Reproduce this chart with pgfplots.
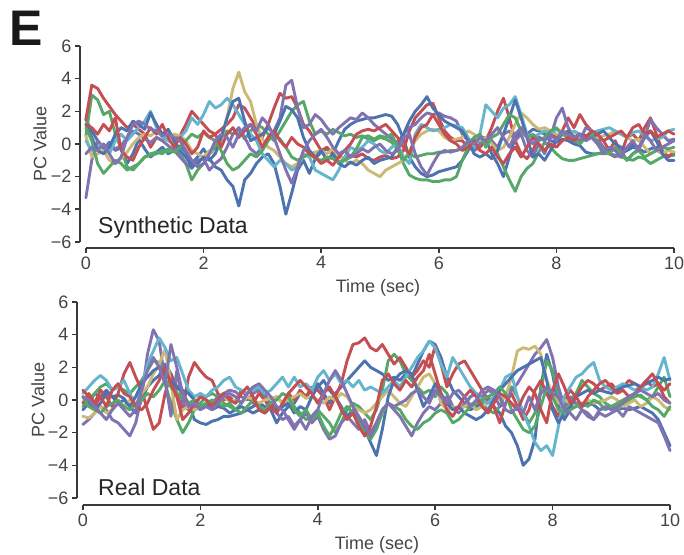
\documentclass[border=0pt]{standalone}
\usepackage{pgfplots}
\pgfplotsset{compat=1.18}
\usepackage{fontspec}
\setmainfont{Liberation Sans}
\definecolor{sb1}{HTML}{4C72B0}
\definecolor{sb2}{HTML}{55A868}
\definecolor{sb3}{HTML}{C44E52}
\definecolor{sb4}{HTML}{8172B2}
\definecolor{sb5}{HTML}{CCB974}
\definecolor{sb6}{HTML}{64B5CD}
\definecolor{tickgray}{HTML}{444444}
\definecolor{spinegray}{HTML}{3A3A3A}
\pgfplotsset{
  pcstyle/.style={
    scale only axis, clip=false,
    xmin=-0.1, xmax=10, ymax=6,
    axis x line*=bottom, axis y line*=left,
    axis line style={draw=none},
    xtick={0,2,4,6,8,10}, ytick={-6,-4,-2,0,2,4,6},
    xticklabels={0,2,4,6,8,10},
    yticklabels={−6,−4,−2,0,2,4,6},
    tick align=outside, major tick length=5pt,
    tick style={line width=1.6pt, color=spinegray},
    tick label style={font=\fontsize{18}{18}\selectfont, color=tickgray},
    every axis plot/.append style={line width=2.9pt, line join=round, line cap=round},
    no markers,
  }
}
\begin{document}
\begin{tikzpicture}[x=1pt,y=1pt]
\useasboundingbox (0pt,0pt) rectangle (684pt,554pt);
% ---------------- Synthetic ----------------
\begin{axis}[pcstyle, at={(80pt,306pt)}, anchor=south west, width=594pt, height=202pt, ymin=-6.37]
\draw[spinegray, line width=2.2pt] (axis cs:0,-6.37) -- (axis cs:10,-6.37);
\draw[spinegray, line width=2.2pt] (axis cs:-0.1,-6) -- (axis cs:-0.1,6);
\addplot[sb1] coordinates {(0,1.5)(0.1,0.8)(0.2,0.2)(0.3,-0.3)(0.4,0.1)(0.5,-0.4)(0.6,-0.2)(0.7,-1.2)(0.8,-0.6)(0.9,0.3)
(1,-0.3)(1.1,-0.8)(1.2,-0.5)(1.3,-0.2)(1.4,-0.6)(1.5,-0.4)(1.6,-0.1)(1.7,-0.5)(1.8,-1.2)(1.9,-0.8)
(2,-0.3)(2.1,-0.9)(2.2,-1.4)(2.3,-1.6)(2.4,-2.2)(2.5,-2.6)(2.6,-3.8)(2.7,-2.2)(2.8,-1.8)(2.9,-1.2)
(3,-0.8)(3.1,-0.6)(3.2,-1.2)(3.3,-2.6)(3.4,-4.3)(3.5,-3)(3.6,-1.6)(3.7,-1)(3.8,-1.8)(3.9,-0.9)
(4,-0.5)(4.1,-0.3)(4.2,-0.6)(4.3,0.2)(4.4,0.9)(4.5,1.2)(4.6,1.4)(4.7,1.5)(4.8,1.6)(4.9,1.6)
(5,1.7)(5.1,1.8)(5.2,1.7)(5.3,1.2)(5.4,0.3)(5.5,-0.8)(5.6,-1.4)(5.7,-1.8)(5.8,-2)(5.9,-1.9)
(6,-1.7)(6.1,-1.6)(6.2,-1.5)(6.3,-1.4)(6.4,-1)(6.5,-0.4)(6.6,0.2)(6.7,0.5)(6.8,0.3)(6.9,-0.6)
(7,-1.2)(7.1,-2)(7.2,-0.8)(7.3,0.4)(7.4,0.8)(7.5,0.6)(7.6,0.9)(7.7,0.8)(7.8,0.6)(7.9,0.2)
(8,0.1)(8.1,0.3)(8.2,0.2)(8.3,0)(8.4,-0.1)(8.5,-0.5)(8.6,-0.6)(8.7,-0.6)(8.8,-0.5)(8.9,-0.6)
(9,-0.7)(9.1,-0.6)(9.2,-0.4)(9.3,-0.2)(9.4,-0.3)(9.5,-0.5)(9.6,-0.3)(9.7,-0.2)(9.8,-0.5)(9.9,-0.8)(10,-0.6)};
\addplot[sb2] coordinates {(0,0.5)(0.1,3)(0.2,2.7)(0.3,1.8)(0.4,2)(0.5,0.6)(0.6,-0.3)(0.7,-1.4)(0.8,-1.6)(0.9,-1.2)
(1,-0.8)(1.1,-0.7)(1.2,-0.6)(1.3,-0.4)(1.4,-0.5)(1.5,-0.3)(1.6,-0.6)(1.7,-1.2)(1.8,-2.2)(1.9,-1.6)
(2,-1.2)(2.1,-0.6)(2.2,-0.2)(2.3,0.4)(2.4,0.8)(2.5,0.6)(2.6,0.9)(2.7,0.3)(2.8,0.8)(2.9,1.2)
(3,1)(3.1,0.6)(3.2,0.2)(3.3,0.8)(3.4,1.4)(3.5,2)(3.6,2.4)(3.7,2.6)(3.8,1.4)(3.9,0.6)
(4,0.8)(4.1,0.6)(4.2,0.9)(4.3,0.7)(4.4,0.5)(4.5,0.6)(4.6,0.4)(4.7,0.5)(4.8,0.3)(4.9,0.2)
(5,0.4)(5.1,0.3)(5.2,0.1)(5.3,-0.3)(5.4,-1.2)(5.5,-1.9)(5.6,-2.1)(5.7,-2.2)(5.8,-2.2)(5.9,-2.3)
(6,-2.3)(6.1,-2.2)(6.2,-2.2)(6.3,-2)(6.4,-1)(6.5,-0.2)(6.6,0.3)(6.7,0.1)(6.8,0.4)(6.9,0.2)
(7,-0.6)(7.1,-1.4)(7.2,-2.2)(7.3,-2.9)(7.4,-2)(7.5,-1.5)(7.6,-1.2)(7.7,-0.5)(7.8,0.1)(7.9,-0.2)
(8,-0.6)(8.1,-0.9)(8.2,-1)(8.3,-1)(8.4,-0.9)(8.5,-0.8)(8.6,-0.7)(8.7,-0.6)(8.8,-0.6)(8.9,-0.6)
(9,-0.7)(9.1,-0.8)(9.2,-0.9)(9.3,-1)(9.4,-0.8)(9.5,-0.9)(9.6,-1.2)(9.7,-1)(9.8,-0.8)(9.9,-0.7)(10,-0.7)};
\addplot[sb3] coordinates {(0,1.5)(0.1,3.6)(0.2,3.4)(0.3,2.8)(0.4,2.3)(0.5,1.8)(0.6,1.4)(0.7,1)(0.8,1.2)(0.9,0.9)
(1,0.6)(1.1,-0.2)(1.2,0.4)(1.3,0.2)(1.4,0.6)(1.5,0.3)(1.6,0.5)(1.7,1.2)(1.8,2)(1.9,1.6)
(2,1.2)(2.1,0.8)(2.2,0.6)(2.3,0.9)(2.4,1.2)(2.5,1.6)(2.6,2.4)(2.7,2.2)(2.8,1.6)(2.9,1)
(3,0.4)(3.1,1.2)(3.2,2.2)(3.3,3.1)(3.4,2.8)(3.5,2.9)(3.6,2.2)(3.7,1.2)(3.8,0.8)(3.9,0.2)
(4,-0.4)(4.1,-0.2)(4.2,-0.6)(4.3,-0.8)(4.4,-0.9)(4.5,-0.7)(4.6,-0.8)(4.7,-0.6)(4.8,-0.9)(4.9,-1)
(5,-0.8)(5.1,-0.7)(5.2,-0.9)(5.3,-0.8)(5.4,-0.4)(5.5,0.8)(5.6,1.6)(5.7,2)(5.8,2.4)(5.9,2.5)
(6,1.6)(6.1,0.8)(6.2,0.4)(6.3,0.2)(6.4,0.2)(6.5,-0.2)(6.6,-0.4)(6.7,-0.2)(6.8,0.2)(6.9,1)
(7,2)(7.1,2.8)(7.2,1.6)(7.3,0.2)(7.4,-0.6)(7.5,-0.9)(7.6,-0.4)(7.7,0.4)(7.8,0.3)(7.9,0.6)
(8,0.4)(8.1,0.8)(8.2,1.6)(8.3,1)(8.4,1.8)(8.5,1.2)(8.6,0.8)(8.7,0.4)(8.8,0.2)(8.9,-0.4)
(9,0.2)(9.1,-0.6)(9.2,0.4)(9.3,0.6)(9.4,0.2)(9.5,1)(9.6,1.6)(9.7,0.6)(9.8,-0.4)(9.9,-0.8)(10,-0.5)};
\addplot[sb4] coordinates {(0,-3.3)(0.1,-1)(0.2,0.2)(0.3,-0.2)(0.4,0)(0.5,-0.3)(0.6,-0.1)(0.7,0.4)(0.8,0.8)(0.9,0.6)
(1,0.3)(1.1,0.1)(1.2,0.4)(1.3,0.2)(1.4,-0.1)(1.5,-0.4)(1.6,-0.8)(1.7,-1.2)(1.8,-1.5)(1.9,-1)
(2,-0.9)(2.1,-1.6)(2.2,-1.2)(2.3,-0.9)(2.4,-0.2)(2.5,0.6)(2.6,1)(2.7,0.4)(2.8,-0.3)(2.9,-0.6)
(3,-0.2)(3.1,0.4)(3.2,0.8)(3.3,1.6)(3.4,3.6)(3.5,3.9)(3.6,2.2)(3.7,1)(3.8,1.2)(3.9,1.8)
(4,1.5)(4.1,1)(4.2,0.6)(4.3,1)(4.4,1.3)(4.5,1.6)(4.6,1.5)(4.7,1.9)(4.8,1.6)(4.9,1.2)
(5,0.9)(5.1,0.6)(5.2,0.3)(5.3,0.1)(5.4,0.6)(5.5,1)(5.6,1.2)(5.7,1.6)(5.8,1.9)(5.9,1.8)
(6,1.9)(6.1,1.7)(6.2,1.6)(6.3,1.4)(6.4,0.6)(6.5,0.2)(6.6,-0.4)(6.7,0)(6.8,0.4)(6.9,0.2)
(7,-0.2)(7.1,0.6)(7.2,0.8)(7.3,0.2)(7.4,0.6)(7.5,-0.4)(7.6,-0.8)(7.7,0)(7.8,-0.6)(7.9,0.4)
(8,1.6)(8.1,2.2)(8.2,1)(8.3,0.4)(8.4,0.2)(8.5,1)(8.6,0.8)(8.7,0.3)(8.8,-0.2)(8.9,-0.6)
(9,-0.8)(9.1,-0.4)(9.2,-1)(9.3,-0.6)(9.4,-0.3)(9.5,0.4)(9.6,1.5)(9.7,1)(9.8,0.6)(9.9,0.2)(10,0.3)};
\addplot[sb5] coordinates {(0,0.5)(0.1,-0.8)(0.2,-0.6)(0.3,-0.4)(0.4,-1)(0.5,-1.2)(0.6,-0.9)(0.7,-0.5)(0.8,0)(0.9,0.4)
(1,0.6)(1.1,0.5)(1.2,0.8)(1.3,0.6)(1.4,0.4)(1.5,0.6)(1.6,0.5)(1.7,0.2)(1.8,-0.4)(1.9,-0.6)
(2,-0.8)(2.1,-0.4)(2.2,-0.6)(2.3,0.2)(2.4,1.6)(2.5,3.4)(2.6,4.4)(2.7,3.2)(2.8,2.6)(2.9,1.2)
(3,0.3)(3.1,-0.2)(3.2,-0.4)(3.3,-0.8)(3.4,-1.2)(3.5,-1.4)(3.6,-1.2)(3.7,-0.8)(3.8,-0.6)(3.9,-0.5)
(4,-0.4)(4.1,-0.6)(4.2,-0.3)(4.3,-0.8)(4.4,-1)(4.5,-1.2)(4.6,-1)(4.7,-1.2)(4.8,-1.6)(4.9,-1.8)
(5,-2)(5.1,-1.6)(5.2,-1.4)(5.3,-1.2)(5.4,-1)(5.5,-0.4)(5.6,0.2)(5.7,0.6)(5.8,0.8)(5.9,0.9)
(6,0.8)(6.1,0.4)(6.2,0.2)(6.3,0.3)(6.4,0.4)(6.5,0.8)(6.6,0.6)(6.7,0.2)(6.8,0.4)(6.9,0)
(7,-0.4)(7.1,-0.2)(7.2,0.4)(7.3,1.2)(7.4,1.9)(7.5,1.6)(7.6,1.2)(7.7,0.9)(7.8,1)(7.9,0.8)
(8,0.6)(8.1,0.6)(8.2,0.5)(8.3,0.7)(8.4,0.6)(8.5,0.5)(8.6,0.6)(8.7,0.4)(8.8,0.5)(8.9,0.6)
(9,0.8)(9.1,0.6)(9.2,0.4)(9.3,0.2)(9.4,0.3)(9.5,-0.2)(9.6,-0.6)(9.7,-0.4)(9.8,-0.6)(9.9,-0.4)(10,-0.5)};
\addplot[sb6] coordinates {(0,0.2)(0.1,-0.4)(0.2,-0.2)(0.3,0)(0.4,-0.6)(0.5,0.2)(0.6,0.6)(0.7,0.2)(0.8,0.6)(0.9,1)
(1,1.4)(1.1,2)(1.2,1)(1.3,0.4)(1.4,0.2)(1.5,0)(1.6,0.4)(1.7,0.8)(1.8,1.6)(1.9,1.2)
(2,1.8)(2.1,2.6)(2.2,2.2)(2.3,2.4)(2.4,2.8)(2.5,2.4)(2.6,1.8)(2.7,1.2)(2.8,0.6)(2.9,0.2)
(3,-0.6)(3.1,-1)(3.2,-1.4)(3.3,-1)(3.4,-1.2)(3.5,-1.6)(3.6,-1.4)(3.7,-0.6)(3.8,-0.8)(3.9,-1.6)
(4,-1.8)(4.1,-2)(4.2,-2.2)(4.3,-1.6)(4.4,-0.8)(4.5,-0.2)(4.6,-0.4)(4.7,-0.2)(4.8,0.2)(4.9,0)
(5,-0.4)(5.1,-0.6)(5.2,-0.2)(5.3,0)(5.4,-0.8)(5.5,-1.2)(5.6,0.6)(5.7,1.2)(5.8,1)(5.9,0.8)
(6,0.9)(6.1,1)(6.2,1.2)(6.3,1.1)(6.4,1)(6.5,0.4)(6.6,-0.2)(6.7,0.6)(6.8,2.4)(6.9,2)
(7,1.6)(7.1,2.2)(7.2,2.4)(7.3,2.9)(7.4,1.8)(7.5,0.6)(7.6,0.4)(7.7,0.6)(7.8,0.8)(7.9,0.6)
(8,0.9)(8.1,0.7)(8.2,0.6)(8.3,0.8)(8.4,0.6)(8.5,0.5)(8.6,0.7)(8.7,0.8)(8.8,0.9)(8.9,1)
(9,0.8)(9.1,0.6)(9.2,0.4)(9.3,0.7)(9.4,0.8)(9.5,0.5)(9.6,0.2)(9.7,0.3)(9.8,0.4)(9.9,0.8)(10,0.9)};
\addplot[sb1] coordinates {(0,1.2)(0.1,0.4)(0.2,-0.4)(0.3,-0.6)(0.4,-0.2)(0.5,0.6)(0.6,1)(0.7,0.8)(0.8,1.4)(0.9,1.2)
(1,0.9)(1.1,1.9)(1.2,1.2)(1.3,0.6)(1.4,0.9)(1.5,0.2)(1.6,-0.4)(1.7,-0.8)(1.8,-1.4)(1.9,-1.2)
(2,-0.8)(2.1,-1)(2.2,-0.6)(2.3,0.4)(2.4,1.6)(2.5,2.6)(2.6,2.8)(2.7,1.4)(2.8,0.2)(2.9,0.4)
(3,0.6)(3.1,1)(3.2,0.6)(3.3,1.4)(3.4,2.3)(3.5,2.1)(3.6,1.6)(3.7,0.4)(3.8,-0.4)(3.9,-0.8)
(4,-0.4)(4.1,-1)(4.2,-0.6)(4.3,-1.2)(4.4,-1.4)(4.5,-1.1)(4.6,-1.3)(4.7,-1)(4.8,-0.8)(4.9,-1.2)
(5,-1)(5.1,-0.9)(5.2,-0.8)(5.3,-0.2)(5.4,0.6)(5.5,1.4)(5.6,2)(5.7,2.4)(5.8,2.9)(5.9,2.2)
(6,1.8)(6.1,1.4)(6.2,1.2)(6.3,1)(6.4,0.8)(6.5,0.2)(6.6,-0.6)(6.7,-0.8)(6.8,-0.6)(6.9,-0.9)
(7,-0.4)(7.1,0.6)(7.2,1.6)(7.3,2.7)(7.4,1.6)(7.5,0.4)(7.6,-0.8)(7.7,-0.6)(7.8,-1)(7.9,-0.4)
(8,0.2)(8.1,0.6)(8.2,0.8)(8.3,0.4)(8.4,0.6)(8.5,0.5)(8.6,0.4)(8.7,0.6)(8.8,0.8)(8.9,0.4)
(9,0)(9.1,-0.2)(9.2,-0.4)(9.3,0)(9.4,-0.2)(9.5,0.4)(9.6,0.8)(9.7,0.2)(9.8,-0.6)(9.9,-1)(10,-1)};
\addplot[sb2] coordinates {(0,1)(0.1,0.2)(0.2,-1.2)(0.3,-1.8)(0.4,-1.4)(0.5,-1)(0.6,-1.2)(0.7,-1.6)(0.8,-1.4)(0.9,-1.2)
(1,-0.8)(1.1,-0.6)(1.2,-0.5)(1.3,-0.6)(1.4,-0.3)(1.5,-0.5)(1.6,-0.2)(1.7,0.2)(1.8,0.6)(1.9,0.4)
(2,0.7)(2.1,0.4)(2.2,0.2)(2.3,-0.4)(2.4,-1.2)(2.5,-1.6)(2.6,-1.4)(2.7,-1)(2.8,-0.6)(2.9,-0.8)
(3,-0.4)(3.1,0.2)(3.2,0.6)(3.3,0.3)(3.4,-0.2)(3.5,-0.8)(3.6,-1)(3.7,-0.8)(3.8,-0.6)(3.9,-0.9)
(4,-1)(4.1,-0.8)(4.2,-0.9)(4.3,-1.1)(4.4,-1)(4.5,-0.8)(4.6,-0.3)(4.7,0.4)(4.8,0.5)(4.9,0.3)
(5,0.5)(5.1,0.4)(5.2,0.6)(5.3,-0.2)(5.4,-1)(5.5,-0.6)(5.6,-0.8)(5.7,-0.7)(5.8,-0.6)(5.9,-0.6)
(6,-0.5)(6.1,-0.5)(6.2,-0.4)(6.3,-0.4)(6.4,-0.3)(6.5,0)(6.6,0.4)(6.7,0.6)(6.8,-0.2)(6.9,0.4)
(7,0.6)(7.1,1.2)(7.2,1.8)(7.3,1.6)(7.4,0.8)(7.5,0.4)(7.6,0.6)(7.7,0.2)(7.8,0.4)(7.9,0.8)
(8,1)(8.1,0.6)(8.2,0.4)(8.3,0.2)(8.4,0)(8.5,0.4)(8.6,0.6)(8.7,0)(8.8,-0.4)(8.9,-0.6)
(9,-0.2)(9.1,-0.6)(9.2,-1)(9.3,-0.6)(9.4,-0.4)(9.5,-0.8)(9.6,-0.6)(9.7,-0.4)(9.8,-0.2)(9.9,-0.3)(10,-0.2)};
\addplot[sb3] coordinates {(0,1.2)(0.1,1)(0.2,0.6)(0.3,1.2)(0.4,0.8)(0.5,1.6)(0.6,-0.4)(0.7,-0.8)(0.8,-1)(0.9,-0.2)
(1,0.4)(1.1,1)(1.2,0.6)(1.3,1.2)(1.4,0.4)(1.5,-0.2)(1.6,0.4)(1.7,0)(1.8,-0.6)(1.9,-0.2)
(2,0.8)(2.1,0.4)(2.2,0.6)(2.3,-0.2)(2.4,0.6)(2.5,1)(2.6,0.4)(2.7,0.8)(2.8,1.2)(2.9,0.6)
(3,-0.2)(3.1,0.4)(3.2,0.8)(3.3,0.2)(3.4,-0.2)(3.5,0.4)(3.6,0)(3.7,-0.2)(3.8,-0.6)(3.9,-0.8)
(4,-1.2)(4.1,-1)(4.2,-1.3)(4.3,-0.8)(4.4,-0.4)(4.5,0)(4.6,0.6)(4.7,0.8)(4.8,0.9)(4.9,0.8)
(5,1)(5.1,1.2)(5.2,0.8)(5.3,0.4)(5.4,-0.2)(5.5,-0.6)(5.6,0.4)(5.7,1)(5.8,1.2)(5.9,1.8)
(6,1.2)(6.1,0.6)(6.2,0.2)(6.3,0)(6.4,-0.4)(6.5,-0.2)(6.6,0.2)(6.7,-0.4)(6.8,-0.6)(6.9,-0.2)
(7,-0.8)(7.1,-1.2)(7.2,-0.6)(7.3,-0.2)(7.4,-0.8)(7.5,-0.2)(7.6,0.4)(7.7,0)(7.8,-0.4)(7.9,0)
(8,-0.2)(8.1,0.2)(8.2,0.4)(8.3,0.2)(8.4,0.6)(8.5,0.4)(8.6,0.8)(8.7,0.6)(8.8,0.2)(8.9,0.4)
(9,0.6)(9.1,0.8)(9.2,0.4)(9.3,1)(9.4,1.2)(9.5,0.6)(9.6,0.8)(9.7,0.4)(9.8,0.6)(9.9,0.8)(10,0.6)};
\addplot[sb4] coordinates {(0,-0.6)(0.1,-0.2)(0.2,-0.4)(0.3,0)(0.4,-0.6)(0.5,-1.2)(0.6,-0.8)(0.7,0.4)(0.8,1.2)(0.9,1.4)
(1,1.2)(1.1,0.9)(1.2,0.8)(1.3,0.5)(1.4,0.6)(1.5,0.4)(1.6,0.2)(1.7,-0.4)(1.8,-1)(1.9,-1.4)
(2,-1.2)(2.1,-0.6)(2.2,0.2)(2.3,0.6)(2.4,0.4)(2.5,-0.2)(2.6,0.6)(2.7,1)(2.8,1.2)(2.9,0.8)
(3,1.6)(3.1,1.2)(3.2,0.4)(3.3,-0.6)(3.4,-1.6)(3.5,-2.4)(3.6,-1.4)(3.7,-0.4)(3.8,0.2)(3.9,0.6)
(4,0.9)(4.1,0.4)(4.2,-0.2)(4.3,-0.6)(4.4,-0.4)(4.5,-0.8)(4.6,-0.6)(4.7,-0.3)(4.8,-0.5)(4.9,-0.2)
(5,0)(5.1,-0.4)(5.2,-0.6)(5.3,-0.4)(5.4,0.4)(5.5,0.6)(5.6,-0.6)(5.7,-1.4)(5.8,-1.9)(5.9,-1.2)
(6,-0.6)(6.1,-0.4)(6.2,-0.5)(6.3,-0.4)(6.4,-0.2)(6.5,0.2)(6.6,0)(6.7,0.4)(6.8,0.2)(6.9,0.6)
(7,1)(7.1,0.4)(7.2,-0.2)(7.3,0.6)(7.4,1)(7.5,0.4)(7.6,0)(7.7,0.4)(7.8,0.2)(7.9,0.6)
(8,0.2)(8.1,0.8)(8.2,0.6)(8.3,0.4)(8.4,0.6)(8.5,0.2)(8.6,0.4)(8.7,0)(8.8,-0.6)(8.9,-0.2)
(9,-0.4)(9.1,-0.8)(9.2,-0.2)(9.3,0.2)(9.4,-0.4)(9.5,0.6)(9.6,0.2)(9.7,-0.4)(9.8,-0.2)(9.9,0)(10,0.2)};
\end{axis}
% ---------------- Real ----------------
\begin{axis}[pcstyle, at={(77pt,49pt)}, anchor=south west, width=593pt, height=203pt, ymin=-6.43]
\draw[spinegray, line width=2.2pt] (axis cs:0,-6.43) -- (axis cs:10,-6.43);
\draw[spinegray, line width=2.2pt] (axis cs:-0.1,-6) -- (axis cs:-0.1,6);
\addplot[sb1] coordinates {(0,-0.6)(0.1,-0.2)(0.2,0.4)(0.3,0.2)(0.4,0.6)(0.5,0.2)(0.6,0.3)(0.7,0.1)(0.8,-0.4)(0.9,-0.8)
(1,0)(1.1,0.8)(1.2,1.2)(1.3,1.5)(1.4,2.2)(1.5,1.6)(1.6,0.8)(1.7,0.4)(1.8,-0.2)(1.9,-1.2)
(2,-1.4)(2.1,-1.5)(2.2,-1.3)(2.3,-1.2)(2.4,-1)(2.5,-1)(2.6,-0.9)(2.7,-0.8)(2.8,-0.6)(2.9,-0.4)
(3,-0.2)(3.1,-0.4)(3.2,-0.6)(3.3,-1.4)(3.4,-0.8)(3.5,-0.4)(3.6,-0.2)(3.7,0.4)(3.8,0.2)(3.9,0.6)
(4,1)(4.1,0.4)(4.2,-0.2)(4.3,0.4)(4.4,0.8)(4.5,1.2)(4.6,1.6)(4.7,2)(4.8,2.4)(4.9,2)
(5,1.8)(5.1,1.6)(5.2,1.2)(5.3,1.4)(5.4,1.2)(5.5,1.6)(5.6,1.4)(5.7,2.2)(5.8,3)(5.9,3.6)
(6,3.4)(6.1,2.6)(6.2,1.4)(6.3,0.6)(6.4,0.2)(6.5,-0.2)(6.6,-0.6)(6.7,-0.4)(6.8,-0.2)(6.9,0.2)
(7,-0.4)(7.1,-0.8)(7.2,-1.6)(7.3,-2)(7.4,-2.8)(7.5,-4)(7.6,-3.6)(7.7,-2.4)(7.8,0.8)(7.9,2.8)
(8,1.6)(8.1,-0.4)(8.2,-1.2)(8.3,-0.6)(8.4,-0.2)(8.5,-0.4)(8.6,-0.2)(8.7,-0.3)(8.8,-0.6)(8.9,-0.5)
(9,-0.4)(9.1,-0.6)(9.2,-0.5)(9.3,-0.6)(9.4,-0.5)(9.5,-0.4)(9.6,-0.6)(9.7,-0.8)(9.8,-1.2)(9.9,-2)(10,-2.8)};
\addplot[sb2] coordinates {(0,-0.4)(0.1,0)(0.2,0.4)(0.3,0.8)(0.4,1)(0.5,0.6)(0.6,0.8)(0.7,0.6)(0.8,0.4)(0.9,0.8)
(1,1.2)(1.1,1.8)(1.2,2.4)(1.3,2.3)(1.4,1)(1.5,-0.2)(1.6,-1.2)(1.7,-2)(1.8,-1.4)(1.9,-0.6)
(2,-0.2)(2.1,0.2)(2.2,0.4)(2.3,0.2)(2.4,-0.2)(2.5,-0.4)(2.6,-0.6)(2.7,-0.2)(2.8,0.4)(2.9,0.8)
(3,0.6)(3.1,0.2)(3.2,-0.2)(3.3,-0.6)(3.4,-0.4)(3.5,0.2)(3.6,-0.4)(3.7,-0.8)(3.8,-1.2)(3.9,-1)
(4,-0.6)(4.1,-1)(4.2,-1.4)(4.3,-2)(4.4,-1.4)(4.5,-0.6)(4.6,-0.2)(4.7,-0.4)(4.8,-0.8)(4.9,-1.2)
(5,-0.6)(5.1,0.6)(5.2,2.4)(5.3,2.8)(5.4,2.4)(5.5,1.6)(5.6,1.2)(5.7,0.8)(5.8,0.4)(5.9,0.6)
(6,0.2)(6.1,0.8)(6.2,0.4)(6.3,-0.4)(6.4,-0.6)(6.5,-0.4)(6.6,0.2)(6.7,0.4)(6.8,-0.2)(6.9,-0.6)
(7,-0.8)(7.1,-0.4)(7.2,0.4)(7.3,0.8)(7.4,0.2)(7.5,-0.8)(7.6,-1.4)(7.7,-0.8)(7.8,0.6)(7.9,2.4)
(8,1.8)(8.1,0.2)(8.2,-0.6)(8.3,0)(8.4,0.4)(8.5,1.2)(8.6,0.8)(8.7,0.4)(8.8,0.2)(8.9,-0.2)
(9,-0.4)(9.1,-0.6)(9.2,-0.3)(9.3,0)(9.4,0.2)(9.5,0.3)(9.6,0)(9.7,0.2)(9.8,0.8)(9.9,1.4)(10,0.2)};
\addplot[sb3] coordinates {(0,-0.2)(0.1,0.4)(0.2,-0.2)(0.3,0.6)(0.4,0.2)(0.5,-0.4)(0.6,0.4)(0.7,1.6)(0.8,2.3)(0.9,1.4)
(1,0.6)(1.1,-0.6)(1.2,-1.8)(1.3,-1.4)(1.4,0.4)(1.5,1.6)(1.6,0.4)(1.7,-0.6)(1.8,1.4)(1.9,2.3)
(2,1.8)(2.1,1.4)(2.2,1.2)(2.3,0.4)(2.4,0)(2.5,0.2)(2.6,-0.2)(2.7,0.6)(2.8,0.2)(2.9,-0.2)
(3,0.4)(3.1,0)(3.2,-0.6)(3.3,0.2)(3.4,-0.2)(3.5,0.4)(3.6,0)(3.7,0.6)(3.8,0.2)(3.9,0.8)
(4,0.6)(4.1,0.2)(4.2,-0.6)(4.3,0.2)(4.4,1)(4.5,2.4)(4.6,3.4)(4.7,3.5)(4.8,3.8)(4.9,3.2)
(5,3)(5.1,3.4)(5.2,2.8)(5.3,2.2)(5.4,2.6)(5.5,2)(5.6,1.4)(5.7,1.8)(5.8,2.4)(5.9,2)
(6,3.3)(6.1,2.2)(6.2,0.8)(6.3,1.6)(6.4,2.2)(6.5,2.4)(6.6,1.8)(6.7,1.2)(6.8,0.6)(6.9,0)
(7,-0.4)(7.1,-1.4)(7.2,-0.2)(7.3,0.4)(7.4,-0.4)(7.5,-1.2)(7.6,-0.6)(7.7,0.6)(7.8,1.2)(7.9,0.4)
(8,-0.4)(8.1,-1)(8.2,0)(8.3,0.6)(8.4,0.2)(8.5,0.8)(8.6,1.2)(8.7,1)(8.8,0.6)(8.9,0.8)
(9,1)(9.1,0.6)(9.2,0.8)(9.3,1.2)(9.4,1)(9.5,0.8)(9.6,1.2)(9.7,0.8)(9.8,1)(9.9,0.6)(10,1)};
\addplot[sb4] coordinates {(0,-1.5)(0.1,-1.2)(0.2,-0.8)(0.3,-0.4)(0.4,-0.6)(0.5,-1.2)(0.6,-1.4)(0.7,-1.8)(0.8,-2.2)(0.9,-1.4)
(1,0.2)(1.1,2.8)(1.2,4.3)(1.3,3.6)(1.4,1.2)(1.5,-1)(1.6,1.8)(1.7,-0.2)(1.8,-0.6)(1.9,-0.4)
(2,0.2)(2.1,0)(2.2,-0.2)(2.3,0.2)(2.4,0.4)(2.5,0.6)(2.6,0.5)(2.7,0.2)(2.8,0)(2.9,0.4)
(3,0.6)(3.1,0.4)(3.2,-0.4)(3.3,-0.8)(3.4,-1.2)(3.5,-1)(3.6,-1.6)(3.7,-1.2)(3.8,-0.8)(3.9,-1.4)
(4,-1)(4.1,-1.8)(4.2,-2.4)(4.3,-2.2)(4.4,-1.4)(4.5,-1)(4.6,-1.4)(4.7,-1.8)(4.8,-1.2)(4.9,-2)
(5,-1.4)(5.1,-0.6)(5.2,-0.2)(5.3,-0.6)(5.4,-1)(5.5,-1.6)(5.6,-2.2)(5.7,-1.4)(5.8,-0.8)(5.9,-0.4)
(6,-0.6)(6.1,-0.2)(6.2,0.2)(6.3,-0.4)(6.4,-0.8)(6.5,-0.2)(6.6,0.2)(6.7,0.4)(6.8,0.2)(6.9,0.6)
(7,0.4)(7.1,-0.4)(7.2,-0.2)(7.3,0.6)(7.4,1)(7.5,1.6)(7.6,2.2)(7.7,2.8)(7.8,3.2)(7.9,3.7)
(8,2.6)(8.1,0.8)(8.2,-0.4)(8.3,0.2)(8.4,-0.2)(8.5,-0.6)(8.6,-0.8)(8.7,-1.2)(8.8,-0.8)(8.9,-1)
(9,-0.8)(9.1,-0.6)(9.2,-1)(9.3,-0.4)(9.4,-0.6)(9.5,-0.8)(9.6,-1)(9.7,-1.2)(9.8,-1.4)(9.9,-2.2)(10,-3.1)};
\addplot[sb5] coordinates {(0,-1)(0.1,-1.1)(0.2,-0.8)(0.3,-0.4)(0.4,-0.8)(0.5,-0.6)(0.6,-0.2)(0.7,-0.4)(0.8,0)(0.9,0.2)
(1,0.4)(1.1,0.8)(1.2,1.6)(1.3,2.2)(1.4,3.1)(1.5,1)(1.6,-1.2)(1.7,-0.6)(1.8,-0.4)(1.9,-0.6)
(2,-0.5)(2.1,-0.2)(2.2,-0.4)(2.3,-0.2)(2.4,0.2)(2.5,-0.1)(2.6,0)(2.7,-0.2)(2.8,0.2)(2.9,0)
(3,-0.2)(3.1,0)(3.2,0.1)(3.3,0.2)(3.4,-0.2)(3.5,0)(3.6,0.2)(3.7,0.4)(3.8,0.1)(3.9,0.2)
(4,0)(4.1,-0.2)(4.2,0.2)(4.3,0)(4.4,0.4)(4.5,0.2)(4.6,-0.4)(4.7,-0.6)(4.8,-0.8)(4.9,-0.6)
(5,-0.2)(5.1,0.2)(5.2,0.6)(5.3,0.2)(5.4,-0.2)(5.5,-0.4)(5.6,0.2)(5.7,0.8)(5.8,1.4)(5.9,1.6)
(6,1)(6.1,-0.2)(6.2,-0.6)(6.3,-0.4)(6.4,-0.6)(6.5,-0.4)(6.6,-0.2)(6.7,-0.6)(6.8,-0.4)(6.9,-0.2)
(7,0.2)(7.1,0)(7.2,0.2)(7.3,1.4)(7.4,3)(7.5,3.2)(7.6,3.1)(7.7,3.3)(7.8,2.8)(7.9,1.2)
(8,0.4)(8.1,-0.2)(8.2,0)(8.3,-0.2)(8.4,-0.4)(8.5,-0.2)(8.6,0)(8.7,-0.2)(8.8,-0.1)(8.9,0)
(9,0.2)(9.1,0)(9.2,-0.4)(9.3,-0.2)(9.4,0)(9.5,-0.4)(9.6,-0.2)(9.7,0.2)(9.8,0)(9.9,-0.4)(10,-0.6)};
\addplot[sb6] coordinates {(0,0.4)(0.1,0.8)(0.2,1.2)(0.3,1.5)(0.4,1.2)(0.5,0.6)(0.6,0.8)(0.7,1.2)(0.8,0.4)(0.9,-0.4)
(1,0.6)(1.1,2.2)(1.2,3)(1.3,3.8)(1.4,3.2)(1.5,2.4)(1.6,2.6)(1.7,1.6)(1.8,0.6)(1.9,0.2)
(2,0.4)(2.1,0.2)(2.2,0.6)(2.3,0.8)(2.4,1.2)(2.5,1.4)(2.6,0.8)(2.7,0.6)(2.8,0.4)(2.9,0.6)
(3,0.8)(3.1,0.4)(3.2,0.6)(3.3,1)(3.4,1.4)(3.5,0.8)(3.6,1.4)(3.7,0.8)(3.8,1)(3.9,0.6)
(4,1.4)(4.1,1.8)(4.2,1.2)(4.3,1.6)(4.4,1)(4.5,1.2)(4.6,0.8)(4.7,1.2)(4.8,0.6)(4.9,0.8)
(5,0.6)(5.1,0.4)(5.2,0.8)(5.3,1.2)(5.4,0.8)(5.5,1.4)(5.6,2)(5.7,2.6)(5.8,3)(5.9,3.6)
(6,3.2)(6.1,2.2)(6.2,1.4)(6.3,2.6)(6.4,2)(6.5,1.4)(6.6,0.8)(6.7,0.4)(6.8,0)(6.9,-0.2)
(7,0.2)(7.1,0.6)(7.2,1.4)(7.3,1.6)(7.4,0.2)(7.5,-0.8)(7.6,-1.6)(7.7,-2.6)(7.8,-3.1)(7.9,-2.8)
(8,-3.4)(8.1,-1.6)(8.2,0.2)(8.3,0.8)(8.4,1.4)(8.5,1.6)(8.6,2)(8.7,2.3)(8.8,1.2)(8.9,0.8)
(9,0.6)(9.1,0.8)(9.2,1)(9.3,0.8)(9.4,0.6)(9.5,0.8)(9.6,0.6)(9.7,0.8)(9.8,1.6)(9.9,2.6)(10,1.2)};
\addplot[sb1] coordinates {(0,0.2)(0.1,-0.2)(0.2,-0.6)(0.3,-0.2)(0.4,0.4)(0.5,0.2)(0.6,-0.2)(0.7,0)(0.8,-0.4)(0.9,0.2)
(1,1)(1.1,1.4)(1.2,1.8)(1.3,2)(1.4,1.6)(1.5,1.2)(1.6,0.8)(1.7,0.6)(1.8,0.4)(1.9,0)
(2,-0.4)(2.1,-0.2)(2.2,-0.6)(2.3,-0.4)(2.4,-0.5)(2.5,-0.8)(2.6,-0.6)(2.7,-0.4)(2.8,-0.6)(2.9,-0.8)
(3,-0.6)(3.1,-0.8)(3.2,-0.4)(3.3,-0.6)(3.4,-0.4)(3.5,-0.2)(3.6,-0.8)(3.7,-0.4)(3.8,-0.6)(3.9,0.2)
(4,0.8)(4.1,1.2)(4.2,0.6)(4.3,0.2)(4.4,-0.4)(4.5,-1)(4.6,-0.6)(4.7,-1.2)(4.8,-1.8)(4.9,-2.6)
(5,-3.4)(5.1,-1.8)(5.2,0.2)(5.3,1.2)(5.4,1.6)(5.5,1.8)(5.6,1.6)(5.7,0.6)(5.8,-0.4)(5.9,0.2)
(6,1)(6.1,0.4)(6.2,-0.2)(6.3,-0.6)(6.4,-0.4)(6.5,-0.8)(6.6,-1)(6.7,-1.2)(6.8,-1)(6.9,-0.6)
(7,0)(7.1,0.6)(7.2,1)(7.3,1.4)(7.4,1.8)(7.5,2)(7.6,2.2)(7.7,2.4)(7.8,2.6)(7.9,1.2)
(8,-0.6)(8.1,-1.4)(8.2,-0.8)(8.3,-0.4)(8.4,0.2)(8.5,0.4)(8.6,0.6)(8.7,0.4)(8.8,0.6)(8.9,0.5)
(9,0.4)(9.1,0.6)(9.2,0.8)(9.3,0.9)(9.4,1)(9.5,0.8)(9.6,1)(9.7,1.2)(9.8,1.4)(9.9,1.2)(10,1.3)};
\addplot[sb2] coordinates {(0,0.2)(0.1,-0.4)(0.2,-0.6)(0.3,-0.8)(0.4,-0.4)(0.5,-0.2)(0.6,0)(0.7,-0.4)(0.8,-0.6)(0.9,-0.2)
(1,0)(1.1,0.4)(1.2,0.2)(1.3,0.6)(1.4,1.2)(1.5,0.8)(1.6,0.4)(1.7,0.2)(1.8,-0.2)(1.9,0)
(2,-0.4)(2.1,-0.2)(2.2,0)(2.3,-0.2)(2.4,-0.4)(2.5,-0.2)(2.6,-0.6)(2.7,-0.8)(2.8,-0.4)(2.9,0)
(3,-0.4)(3.1,-0.6)(3.2,-0.2)(3.3,0)(3.4,0.4)(3.5,0.2)(3.6,-0.6)(3.7,-1)(3.8,-0.6)(3.9,-1.2)
(4,-0.8)(4.1,-1.6)(4.2,-2.2)(4.3,-1.6)(4.4,-0.8)(4.5,-0.4)(4.6,-0.8)(4.7,-1.4)(4.8,-2)(4.9,-2.4)
(5,-1.8)(5.1,-0.8)(5.2,-0.2)(5.3,-0.4)(5.4,-0.6)(5.5,-1.2)(5.6,-1.6)(5.7,-1.8)(5.8,-1.4)(5.9,-1.2)
(6,-0.8)(6.1,-0.6)(6.2,-0.8)(6.3,-1.4)(6.4,-1.2)(6.5,-0.8)(6.6,-0.4)(6.7,-0.2)(6.8,0)(6.9,0.2)
(7,0.4)(7.1,0.8)(7.2,0.4)(7.3,-0.6)(7.4,-1.2)(7.5,-1.8)(7.6,-2)(7.7,-1.6)(7.8,-0.4)(7.9,0.8)
(8,0.2)(8.1,-0.6)(8.2,-0.8)(8.3,-0.6)(8.4,-0.4)(8.5,-0.2)(8.6,-0.4)(8.7,0)(8.8,-0.2)(8.9,-0.6)
(9,-0.4)(9.1,-0.2)(9.2,0)(9.3,0.2)(9.4,0.4)(9.5,0.2)(9.6,0)(9.7,-0.4)(9.8,-0.6)(9.9,-1)(10,-0.4)};
\addplot[sb3] coordinates {(0,0.6)(0.1,0.2)(0.2,-0.4)(0.3,0.2)(0.4,-0.4)(0.5,0.6)(0.6,1)(0.7,0.4)(0.8,0.2)(0.9,-0.4)
(1,-0.6)(1.1,-0.2)(1.2,0.6)(1.3,1.2)(1.4,2)(1.5,1)(1.6,0.2)(1.7,-1.2)(1.8,-0.8)(1.9,-0.2)
(2,0.2)(2.1,0)(2.2,-0.4)(2.3,0)(2.4,0.4)(2.5,0)(2.6,-0.2)(2.7,0.4)(2.8,0.8)(2.9,0.2)
(3,-0.6)(3.1,-0.8)(3.2,-0.4)(3.3,-0.8)(3.4,-0.2)(3.5,0.4)(3.6,0.8)(3.7,1.2)(3.8,0.8)(3.9,0.4)
(4,-0.2)(4.1,0.4)(4.2,0.8)(4.3,0.2)(4.4,-0.6)(4.5,-1.2)(4.6,-0.8)(4.7,-1.6)(4.8,-2.2)(4.9,-1.6)
(5,-0.4)(5.1,1.2)(5.2,1.6)(5.3,1)(5.4,0.6)(5.5,1.2)(5.6,0.8)(5.7,1.4)(5.8,1.8)(5.9,2.8)
(6,1.6)(6.1,0.4)(6.2,-0.6)(6.3,-1)(6.4,-0.4)(6.5,0.2)(6.6,0.6)(6.7,0.2)(6.8,-0.4)(6.9,-0.8)
(7,-0.2)(7.1,0.4)(7.2,0.2)(7.3,-0.2)(7.4,-0.6)(7.5,0.2)(7.6,0.8)(7.7,0.4)(7.8,-0.6)(7.9,-1.4)
(8,0.6)(8.1,1.6)(8.2,0.8)(8.3,-0.2)(8.4,0.2)(8.5,-0.4)(8.6,0.2)(8.7,0.6)(8.8,1)(8.9,1.2)
(9,0.8)(9.1,0.4)(9.2,0.6)(9.3,0.2)(9.4,0.4)(9.5,0.8)(9.6,1.2)(9.7,1.6)(9.8,1)(9.9,0.2)(10,-0.2)};
\addplot[sb4] coordinates {(0,0.2)(0.1,0)(0.2,-0.4)(0.3,-0.8)(0.4,-1.2)(0.5,-0.6)(0.6,-0.2)(0.7,-0.6)(0.8,-1)(0.9,-0.6)
(1,0.6)(1.1,1.8)(1.2,2.6)(1.3,2)(1.4,1)(1.5,3.4)(1.6,2)(1.7,0.4)(1.8,-0.4)(1.9,-0.2)
(2,-0.6)(2.1,-0.4)(2.2,-0.6)(2.3,-0.2)(2.4,0.2)(2.5,0.4)(2.6,0.2)(2.7,-0.2)(2.8,0.4)(2.9,0.8)
(3,1)(3.1,0.6)(3.2,0.2)(3.3,-0.4)(3.4,-0.6)(3.5,-1.2)(3.6,-1.8)(3.7,-1.2)(3.8,-1.8)(3.9,-1)
(4,-0.6)(4.1,0.4)(4.2,1.2)(4.3,1.8)(4.4,1.2)(4.5,0.4)(4.6,-0.4)(4.7,-1)(4.8,-1.6)(4.9,-2.2)
(5,-1.4)(5.1,-0.6)(5.2,-0.2)(5.3,-0.4)(5.4,-0.2)(5.5,0)(5.6,0.4)(5.7,0.6)(5.8,0.2)(5.9,-0.2)
(6,0.6)(6.1,0.2)(6.2,-0.2)(6.3,0.4)(6.4,0.6)(6.5,0.2)(6.6,-0.4)(6.7,0)(6.8,0.6)(6.9,0.8)
(7,0.6)(7.1,0.2)(7.2,-0.6)(7.3,-0.8)(7.4,-0.4)(7.5,-0.8)(7.6,0.2)(7.7,-0.6)(7.8,0.4)(7.9,0.8)
(8,0.4)(8.1,0.2)(8.2,-0.6)(8.3,-0.8)(8.4,-1.2)(8.5,-0.6)(8.6,-1)(8.7,-1.2)(8.8,-0.6)(8.9,-0.4)
(9,-0.6)(9.1,-0.4)(9.2,-0.2)(9.3,0.2)(9.4,0.4)(9.5,0.6)(9.6,0.4)(9.7,0.2)(9.8,0.4)(9.9,0)(10,-0.2)};
\end{axis}
% ---------------- texts ----------------
\node[rotate=90, font=\fontsize{18}{18}\selectfont, text=tickgray] at (40pt,410pt) {PC Value};
\node[font=\fontsize{18}{18}\selectfont, text=tickgray] at (378pt,266pt) {Time (sec)};
\node[rotate=90, font=\fontsize{18}{18}\selectfont, text=tickgray] at (38pt,154pt) {PC Value};
\node[font=\fontsize{18}{18}\selectfont, text=tickgray] at (377pt,9pt) {Time (sec)};
\node[anchor=west, inner sep=0pt, font=\fontsize{23}{23}\selectfont, text=black!85] at (98pt,326pt) {Synthetic Data};
\node[anchor=west, inner sep=0pt, font=\fontsize{23}{23}\selectfont, text=black!85] at (98pt,67pt) {Real Data};
\node[font=\fontsize{50}{50}\selectfont\bfseries, text=black!90] at (26pt,526pt) {E};
\end{tikzpicture}
\end{document}
